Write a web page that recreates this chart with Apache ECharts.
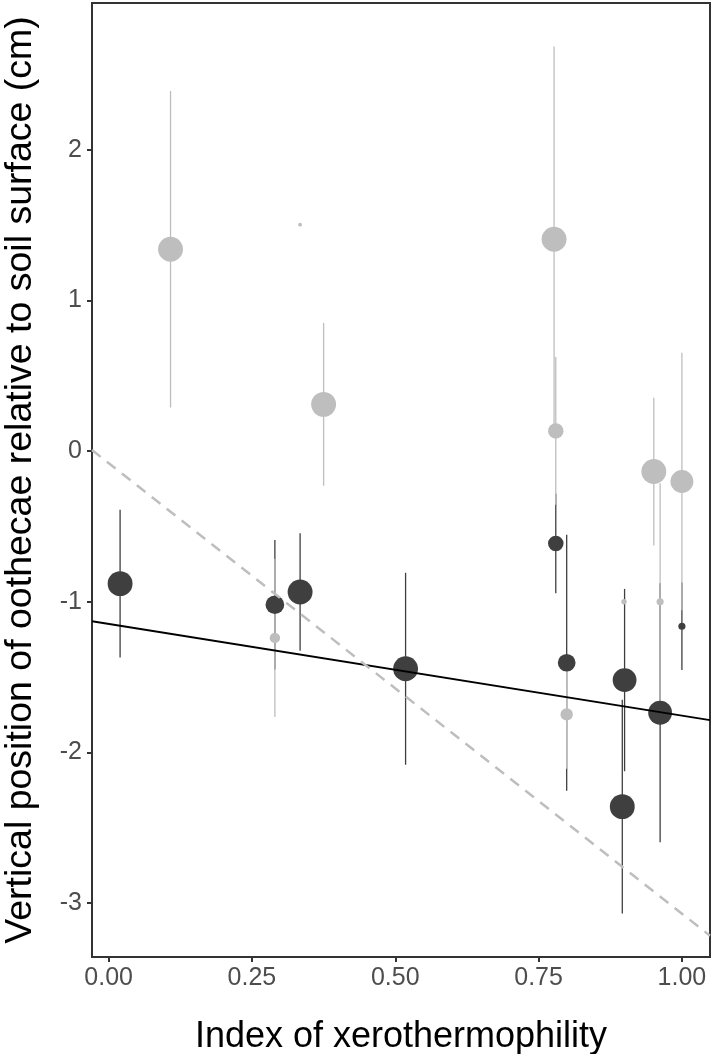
<!DOCTYPE html>
<html>
<head>
<meta charset="utf-8">
<script src="https://cdn.jsdelivr.net/npm/echarts@6/dist/echarts.min.js"></script>
<style>
html,body{margin:0;padding:0;background:#fff;}
#chart{width:714px;height:1054px;}
</style>
</head>
<body>
<div id="chart"></div>
<script>
// ---- data ----
const xTicks = [0, 0.25, 0.5, 0.75, 1.0];
const yTicks = [-3, -2, -1, 0, 1, 2];

// dark group (points with +/- error)
const darkX    = [0.020, 0.290, 0.334, 0.518, 0.780, 0.799, 0.900, 0.896, 0.962, 1.000];
const darkMean = [-0.88, -1.02, -0.935, -1.445, -0.613, -1.405, -1.52, -2.36, -1.737, -1.163];
const darkErr  = [0.49, 0.43, 0.39, 0.637, 0.33, 0.85, 0.605, 0.71, 0.86, 0.29];
const darkN    = [85, 48, 85, 85, 33, 43, 78, 85, 78, 7];

// light group
const lightX    = [0.108, 0.290, 0.334, 0.375, 0.777, 0.780, 0.799, 0.899, 0.951, 0.962, 1.000];
const lightMean = [1.34, -1.24, 1.503, 0.31, 1.406, 0.134, -1.748, -1.0, -0.136, -1.0, -0.202];
const lightErr  = [1.05, 0.525, null, 0.54, 1.28, 0.49, 0.36, null, 0.49, 0.787, 0.855];
const lightN    = [85, 15, 2, 85, 85, 33, 21, 4, 85, 7, 72];

// fitted lines: [intercept, slope]
const darkFit  = [-1.147, -0.609];
const lightFit = [-0.08, -2.99];

const xRange = [-0.029, 1.049];
const yRange = [-3.358, 2.974];

// ---- styling ----
const DARK = '#3f3f3f';
const LIGHT = '#bebebe';
const FONT = 'Liberation Sans, Arial, sans-serif';
const sizeScale = n => 2.7 * Math.sqrt(n);

function errData(xs, m, e) {
  const out = [];
  xs.forEach((x, i) => { if (e[i] != null) out.push([x, m[i] - e[i], m[i] + e[i]]); });
  return out;
}
function ptData(xs, m, n) {
  return xs.map((x, i) => [x, m[i], n[i]]);
}
function fitData(f) {
  return xRange.map(x => [x, f[0] + f[1] * x]);
}
function errSeries(data, color) {
  return {
    type: 'custom',
    data: data,
    silent: true,
    clip: true,
    encode: { x: 0, y: [1, 2] },
    renderItem: function (params, api) {
      const x = api.value(0);
      const p1 = api.coord([x, api.value(1)]);
      const p2 = api.coord([x, api.value(2)]);
      return {
        type: 'line',
        shape: { x1: p1[0], y1: p1[1], x2: p2[0], y2: p2[1] },
        style: { stroke: color, lineWidth: 1.3 }
      };
    }
  };
}

const chart = echarts.init(document.getElementById('chart'), null, { renderer: 'canvas' });
chart.setOption({
  animation: false,
  backgroundColor: '#ffffff',
  grid: {
    left: 92, right: 4, top: 3, bottom: 97,
    outerBoundsMode: 'none',
    containLabel: false,
    show: true, borderColor: '#333333', borderWidth: 2, backgroundColor: '#ffffff'
  },
  xAxis: {
    type: 'value',
    min: xRange[0], max: xRange[1],
    name: 'Index of xerothermophility',
    nameLocation: 'middle',
    nameGap: 62,
    nameTextStyle: { fontFamily: FONT, fontSize: 36, color: '#000000' },
    splitLine: { show: false },
    axisLine: { show: true, onZero: false, lineStyle: { color: '#333333', width: 2 } },
    axisTick: { show: true, length: 5, lineStyle: { color: '#333333', width: 2 }, customValues: xTicks },
    axisLabel: {
      fontFamily: FONT, fontSize: 25, color: '#4d4d4d', margin: 9,
      customValues: xTicks,
      formatter: v => Number(v).toFixed(2)
    }
  },
  yAxis: {
    type: 'value',
    min: yRange[0], max: yRange[1],
    name: 'Vertical position of oothecae relative to soil surface (cm)',
    nameLocation: 'middle',
    nameRotate: 90,
    nameGap: 52,
    nameTextStyle: { fontFamily: FONT, fontSize: 37.5, color: '#000000' },
    splitLine: { show: false },
    axisLine: { show: true, onZero: false, lineStyle: { color: '#333333', width: 2 } },
    axisTick: { show: true, length: 5, lineStyle: { color: '#333333', width: 2 }, customValues: yTicks },
    axisLabel: {
      fontFamily: FONT, fontSize: 25, color: '#4d4d4d', margin: 10,
      customValues: yTicks,
      formatter: v => String(Math.round(v))
    }
  },
  series: [
    errSeries(errData(darkX, darkMean, darkErr), DARK),
    {
      type: 'scatter',
      data: ptData(darkX, darkMean, darkN),
      symbol: 'circle',
      symbolSize: v => sizeScale(v[2]),
      itemStyle: { color: DARK, opacity: 1 },
      silent: true
    },
    errSeries(errData(lightX, lightMean, lightErr), LIGHT),
    {
      type: 'scatter',
      data: ptData(lightX, lightMean, lightN),
      symbol: 'circle',
      symbolSize: v => sizeScale(v[2]),
      itemStyle: { color: LIGHT, opacity: 1 },
      silent: true
    },
    {
      type: 'line',
      data: fitData(darkFit),
      showSymbol: false,
      symbol: 'none',
      lineStyle: { color: '#000000', width: 2 },
      silent: true
    },
    {
      type: 'line',
      data: fitData(lightFit),
      showSymbol: false,
      symbol: 'none',
      lineStyle: { color: LIGHT, width: 2.5, type: [11, 8] },
      silent: true
    }
  ]
});
</script>
</body>
</html>
